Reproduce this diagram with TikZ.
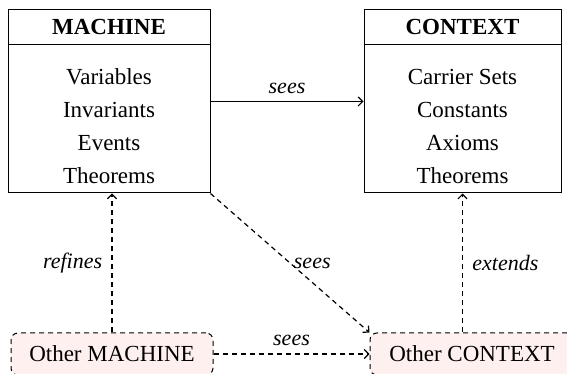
\documentclass[tikz,border=0pt]{standalone}
\usepackage{fontspec}
\setmainfont{Liberation Serif}
\usetikzlibrary{arrows.meta}

\begin{document}
\begin{tikzpicture}[x=1pt, y=1pt, line width=1pt, >={Straight Barb[length=4.5pt, width=9pt, line width=1.2pt]},
		every node/.style={font=\fontsize{23}{33}\selectfont},
		mainbox/.style={draw, rectangle, align=center, minimum height=183pt, inner sep=0pt},
		otherbox/.style={draw, dash pattern=on 5pt off 4pt, rounded corners=7pt, fill=red!6, minimum width=202pt, minimum height=42pt, inner sep=0pt},
		dashline/.style={dash pattern=on 5pt off 4pt, line width=1.2pt},
		lbl/.style={font=\fontsize{22}{25}\selectfont\itshape}]
	\path[use as bounding box, clip] (0, 0) rectangle (567, 374);
	\node[mainbox, minimum width=202pt] (mach) at (109, 272.5) {\textbf{MACHINE}\\[17pt]Variables\\Invariants\\Events\\Theorems};
	\node[mainbox, minimum width=197pt] (ctx) at (462.5, 272.5) {\textbf{CONTEXT}\\[17pt]Carrier Sets\\Constants\\Axioms\\Theorems};
	\node[otherbox] (omach) at (112, 20) {Other MACHINE};
	\node[otherbox, minimum width=204pt] (octx) at (472, 20) {Other CONTEXT};
	\draw ([yshift=-35pt]mach.north west) -- ([yshift=-35pt]mach.north east);
	\draw ([yshift=-35pt]ctx.north west) -- ([yshift=-35pt]ctx.north east);
	\draw[->] (mach.east) -- node[lbl, above=4pt] {sees} (ctx.west);
	\draw[->, dashline] (omach.north) -- node[lbl, left=6pt] {refines} (omach.north |- mach.south);
	\draw[->, dashline] (mach.south east) -- node[lbl, right] {sees} (octx.north west);
	\draw[->, dashline] (octx.north -| ctx.south) -- node[lbl, right=6pt] {extends} (ctx.south);
	\draw[->, dashline] (omach.east) -- node[lbl, above=4pt] {sees} (octx.west);
\end{tikzpicture}
\end{document}
